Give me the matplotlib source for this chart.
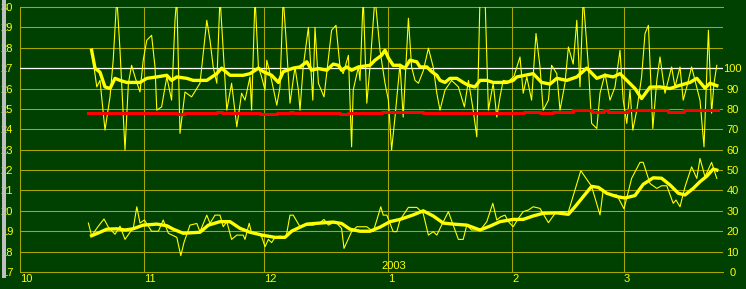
import numpy as np
import matplotlib
matplotlib.use("Agg")
import matplotlib.pyplot as plt
from matplotlib.patches import Rectangle

# x values are days counted from 2002-10-01
start = np.datetime64("2002-10-01")
month_starts = ["2002-10-01", "2002-11-01", "2002-12-01", "2003-01-01", "2003-02-01", "2003-03-01"]
month_labels = ["10", "11", "12", "1", "2", "3"]

# upper group, right axis (0-100 scale)
upper_days = [17.9, 19.2, 20, 21.25, 22.5, 23.3, 24.2, 25, 26.25, 27.1, 27.9, 28.75, 30, 30.8, 31.7,
              32.9, 33.75, 34.2, 35.4, 36.7, 37.9, 38.75, 39.2, 40, 41.25, 42.9, 45, 46.7, 47.5, 48.3,
              49.2, 50, 50.8, 51.7, 52.9, 54.2, 55.4, 56.25, 57.5, 57.9, 58.75, 59.6, 60.4, 61.25, 61.7,
              62.9, 64.2, 65, 65.8, 66.7, 67.5, 68.75, 69.6,
              70, 70.8, 72.1, 73.2, 73.75, 74.6, 76, 77.9, 79, 80, 80.8, 82.1, 82.9, 83.3, 84.6, 85,
              85.8, 86.7, 87.5, 88.75, 90, 91.25, 92.1, 92.9, 93.75, 95, 95.8, 97.1, 97.9, 98.75, 99.6,
              100.8, 102.1, 103.3, 104.2, 105, 106.25, 107.9, 109.6, 111.1, 112.1, 113.3, 114.2, 115,
              116.25, 117.1, 118.3, 119.2, 120, 120.8, 122.1, 123.5,
              125, 125.8, 126.7, 127.9, 129, 130, 130.8, 132.1, 132.9, 134.2, 135, 136.25, 137.1, 138.3,
              139.2, 140, 140.8, 142.1, 142.9, 144.2, 145, 146.25, 147.5, 148.75, 150, 150.8, 151.7,
              152.5, 153.2, 154.2, 155.4, 156.25, 157.1, 158.2, 159.2, 160, 161.25, 162.9, 163.75, 165,
              165.8, 166.7, 167.9, 168.75, 170, 171, 172.1, 172.9, 173.5, 174.2]
upper_vals = [108.8, 90.8, 94, 69.6, 85.9, 103.9, 135, 108.8, 59.8, 92.6, 101.4, 95.7, 88.3, 103.9, 113.7,
              116.1, 100.6, 79.4, 81, 95.7, 84.3, 123.5, 135, 68, 88.3, 85.9, 92.6, 123.5, 113.7, 100.6,
              92.6, 135, 108.8, 79.4, 92.6, 71.2, 87.7, 84.3, 95.7, 79.4, 135, 100.6, 95.7, 89.2, 103.9,
              94, 81.8, 90.8, 135, 108.8, 82.8, 100.6, 89.2,
              79.4, 100.6, 120, 84.3, 120, 92.6, 85.9, 118.6, 121, 100.6, 97.3, 106.3, 61.4, 89.2, 100.6, 94,
              135, 82.8, 100.6, 135, 108.8, 92.6, 84.3, 59.8, 76, 102, 76, 124.5, 100.6, 94, 92.6,
              98.6, 109.8, 100.6, 87.7, 79.4, 89.2, 94, 90.8, 81, 94, 79.4, 66.3, 135,
              135, 79.4, 92.6, 76, 85.9, 94, 93.5, 96,
              105.5, 87.7, 95.7, 84.3, 117, 100.6, 79.4, 84.3, 101.4, 97.3, 79.4, 92.6, 110.4, 102,
              123.5, 90.8, 135, 100.6, 72.9, 70.4, 87.7, 97.3, 84.3, 90.8, 108.8, 84.3, 72.9,
              89.2, 69.6, 79.4, 95.7, 117, 121, 70.4, 94, 105.5, 87.7, 100.6, 90.8, 100.6,
              84.3, 90.8, 100.6, 94, 84.3, 61.4, 118.6, 77.9, 92.6, 101.4]

upper_avg_days = [17.9, 18.75, 20, 21.25, 22.5, 23.75, 25, 26.7, 30, 31.7, 34.2, 36.7, 37.9, 39.2, 41.7,
                  43.3, 46.7, 49.2, 50.4, 52.5, 55.8, 57.5, 59.6, 60.8, 62.9, 64.6, 65.8, 68.3, 70, 71.7,
                  72.9, 74.6, 76.7, 78.3, 79.6, 80.4, 81.7, 82.9, 84.6, 87.5, 88.75, 90.4, 91.25, 92.1,
                  93.3, 95, 96.25, 97.5, 99.2, 100, 101.7, 102.9, 104.2, 105, 106.25, 107.5, 109.2, 110.8,
                  112.1, 113.75, 115, 116.7, 118.3, 120, 121.7, 123.3, 124.2, 126.25, 128.3, 130.4, 132.5,
                  134.2, 136.7, 139.2, 141.7, 144.2, 146.25, 148.3, 150, 151.7, 153.75, 155.4, 157.5, 160,
                  162.5, 165, 167.5, 169.2, 171.25, 172.5, 174.2]
upper_avg_vals = [108.8, 100, 98, 90.8, 90, 95, 94, 93, 93, 95, 95.7, 96.5, 94, 95.7, 95,
                  94, 94, 97.3, 100, 96.5, 96.5, 97.3, 100, 98.3, 96.5, 93, 98.3, 100, 100.6, 103.1,
                  99, 99.8, 99, 102, 101.4, 99, 100.6, 99, 100.6, 101.4, 103.9, 106.3, 108.8, 105,
                  101.4, 101.4, 100, 103.9, 103.1, 100.6, 100.6, 98.3, 96.5, 94, 93, 95, 95, 93,
                  91.6, 90.8, 94, 94, 93, 93, 93, 94, 95.7, 96.5, 97.3, 93, 92.2,
                  95, 94, 95.7, 100, 95, 96.5, 95.7, 97.3, 94, 90, 85.1, 90.7, 90.8,
                  90, 91.6, 93, 95, 90.2, 92.6, 91.4]

red_days = [17, 39.2, 41.25, 49.2, 50.4, 60, 64.2, 67.5, 68.3, 80, 82, 90.4, 95, 100.8, 118.3, 122.5,
            126, 130, 133.3, 138.3, 143, 146, 147, 152, 162, 166, 172.5, 174.5]
red_vals = [77.8, 77.3, 77.9, 78.5, 77.8, 77.3, 77.8, 78.5, 77.8, 77.3, 77.8, 78.3, 78.5, 77.8, 78.1, 77.8,
            78.3, 77.8, 78.5, 79.3, 78.6, 79.3, 78.3, 79.3, 78.5, 79.3, 79.6, 79.6]

# lower group, left axis
lower_days = [17.1, 17.9, 19.6, 21, 22.1, 23.75, 25, 26.25, 27.5, 28.3, 29.2, 30, 31.1, 32.9, 34.6, 35.8,
              37.1, 39.2, 40.2, 41, 42.5, 44.2,
              45, 46.7, 47.5, 48.75, 50, 50.8, 51.7, 52.9, 54.2, 55.8, 56.25, 57.3, 57.9, 59.2, 60.4,
              61.25, 62.1, 62.9, 63.75, 65, 66.5, 67.5, 68.3, 70, 71.25, 73.3, 75, 76, 77.1, 78.3, 79.2,
              80.4, 81, 82.9, 84.2, 86.7, 88.3, 89.2, 90.2, 90.8, 91.7, 93.3, 94.2, 95, 97.1, 99.2,
              100.8, 102.1, 103.3, 104.2, 105.4, 107.1, 108.3, 109.6, 110.8, 111.7, 112.9, 114.2, 115.4,
              116.7, 118.2, 119.2, 120.2, 121.25, 122.1, 123.3, 124.6, 125.8, 127.1, 128.3, 130, 132.1,
              133.75, 135,
              137.1, 140.2, 142.9, 145, 145.8, 147.5, 149.2, 151, 152.9, 155, 155.8, 157.5, 159.2, 160.4,
              161.7, 163.3, 164, 165, 166.25, 167.9, 169.2, 170, 171.25, 172.9, 174.2]
lower_vals = [19.4, 18.78, 19.25, 19.6, 19.2, 18.85, 19.25, 18.6, 18.95, 19.12, 20.2, 19.4, 19.55, 19.0,
              19.0, 19.55, 18.9, 18.7, 17.8, 18.45, 19.3, 19.38,
              18.98, 19.79, 19.39, 19.79, 19.79, 19.22, 19.47, 18.6, 18.81, 18.81, 18.6, 19.39, 18.9,
              18.9, 18.74, 18.24, 18.6, 18.44, 18.7, 18.76, 18.7, 19.79, 19.79, 19.22, 19.3, 19.3,
              19.42, 19.58, 19.3, 19.42, 19.39, 19.14, 18.16, 18.98, 19.22, 19.22, 18.98, 19.55, 20.2,
              19.79, 19.79, 18.98, 18.98, 19.55, 20.17, 20.17, 19.87, 18.81, 18.98, 18.81, 19.3, 19.96,
              19.3, 18.6, 18.6, 19.3, 19.06, 19.06, 19.14, 19.47, 20.37, 19.55, 19.71, 19.79, 19.47,
              19.22, 19.63, 19.96, 20.04, 20.2, 20.12, 19.42, 19.87, 19.96,
              19.96, 21.97, 21.2, 19.8, 21.02, 20.78, 20.78, 20.1, 21.59, 22.38, 22.38, 21.34, 21.1,
              21.23, 21.23, 20.37, 20.53, 20.2, 21.18, 22.16, 21.59, 22.57, 21.67, 22.38, 21.59]

lower_avg_days = [17.9, 20, 21.7, 24.2, 26.25, 28.3, 30.8, 34.2, 36.7, 38.3, 40.8, 45, 47.1, 50, 52.5,
                  55, 57.5, 60.8, 63.75, 66.25, 67.9, 70, 71.7, 75, 78.3, 80.4, 82.5, 85, 87.5, 90, 92.5,
                  95, 98.3, 100.8, 103.3, 105.8, 108.3, 111.7, 115, 117.5, 120, 123.3, 125.8, 128.3,
                  130.8, 134.2, 137.1, 138.75, 140.4, 142.9, 144.6, 146.7, 149.2, 151.25, 153.75, 155.8,
                  158.3, 160.4, 162.5, 164.6, 166.25, 168.3, 170, 171.7, 173.3, 174.2]
lower_avg_vals = [18.78, 18.95, 19.1, 19.12, 19.06, 19.12, 19.3, 19.35, 19.27, 19.1, 18.9, 18.95, 19.3,
                  19.47, 19.47, 19.14, 18.95, 18.8, 18.7, 18.7, 19.0, 19.2, 19.35, 19.4, 19.45, 19.38,
                  19.1, 19.0, 19.0, 19.2, 19.47, 19.58, 19.8, 20.0, 19.75, 19.4, 19.35, 19.3, 19.06,
                  19.25, 19.47, 19.58, 19.58, 19.75, 19.88, 19.9, 19.83, 20.2, 20.6, 21.2, 21.15, 20.86,
                  20.7, 20.63, 20.75, 21.3, 21.62, 21.6, 21.27, 20.86, 20.78, 21.1, 21.43, 21.7, 22.05,
                  22.0]

left_ticks = np.arange(17, 31)
right_ticks = np.arange(0, 101, 10)
ref_level = 100

bg = "#004000"
grid_c = "#a8a800"
yellow = "#ffff00"
font = "Liberation Sans"
fs = 8

fig = plt.figure(figsize=(7.46, 2.89), dpi=100, facecolor=bg)
ax = fig.add_axes([20 / 746, 17 / 289, 703 / 746, 265 / 289], facecolor=bg)
ax2 = ax.twinx()

tick_days = (np.array(month_starts, dtype="datetime64[D]") - start).astype(int)

ax.set_xlim(0, 175.75)
ax.set_ylim(17, 30)
ax2.set_ylim(0, 130)

ax.set_xticks(tick_days)
ax.set_xticklabels(month_labels, fontsize=fs, color=yellow, family=font, ha="left")
ax.set_yticks(left_ticks)
ax.set_yticklabels([str(v) for v in left_ticks], fontsize=fs, color=yellow, family=font)
ax.tick_params(axis="x", length=0, pad=1.2)
ax.tick_params(axis="y", length=0, pad=5)
ax.grid(True, color=grid_c, lw=0.75)
ax.set_axisbelow(True)
for name, sp in ax.spines.items():
    sp.set_color(grid_c)
    sp.set_linewidth(0.75)
ax.spines["right"].set_visible(False)

ax2.set_yticks(right_ticks)
ax2.set_yticklabels([str(v) for v in right_ticks], fontsize=fs, color=yellow, family=font)
for lbl in ax2.get_yticklabels():
    lbl.set_ha("center")
ax2.tick_params(axis="y", length=0, pad=6.8)
for sp in ax2.spines.values():
    sp.set_visible(False)

ax2.axhline(ref_level, color="white", lw=0.9, zorder=1)
ax2.plot(upper_days, upper_vals, color=yellow, lw=0.8, zorder=2)
ax2.step(red_days, red_vals, where="post", color="#ff0000", lw=2.2, zorder=3)
ax2.plot(upper_avg_days, upper_avg_vals, color=yellow, lw=2.4, zorder=4)

ax.plot(lower_days, lower_vals, color=yellow, lw=0.8, zorder=2)
ax.plot(lower_avg_days, lower_avg_vals, color=yellow, lw=2.4, zorder=3)

jan = int(tick_days[3])
ax.text(jan + 1.5, 0.022, "2003", transform=ax.get_xaxis_transform(), ha="center", va="center",
        fontsize=fs, color=yellow, family=font)

# grey strip at the very left edge
fig.add_artist(Rectangle((2 / 746, 11 / 289), 4 / 746, 278 / 289, transform=fig.transFigure,
                         facecolor="#c0c0c0", edgecolor="none", zorder=10))

fig.savefig("out.png", dpi=100, facecolor=bg)
